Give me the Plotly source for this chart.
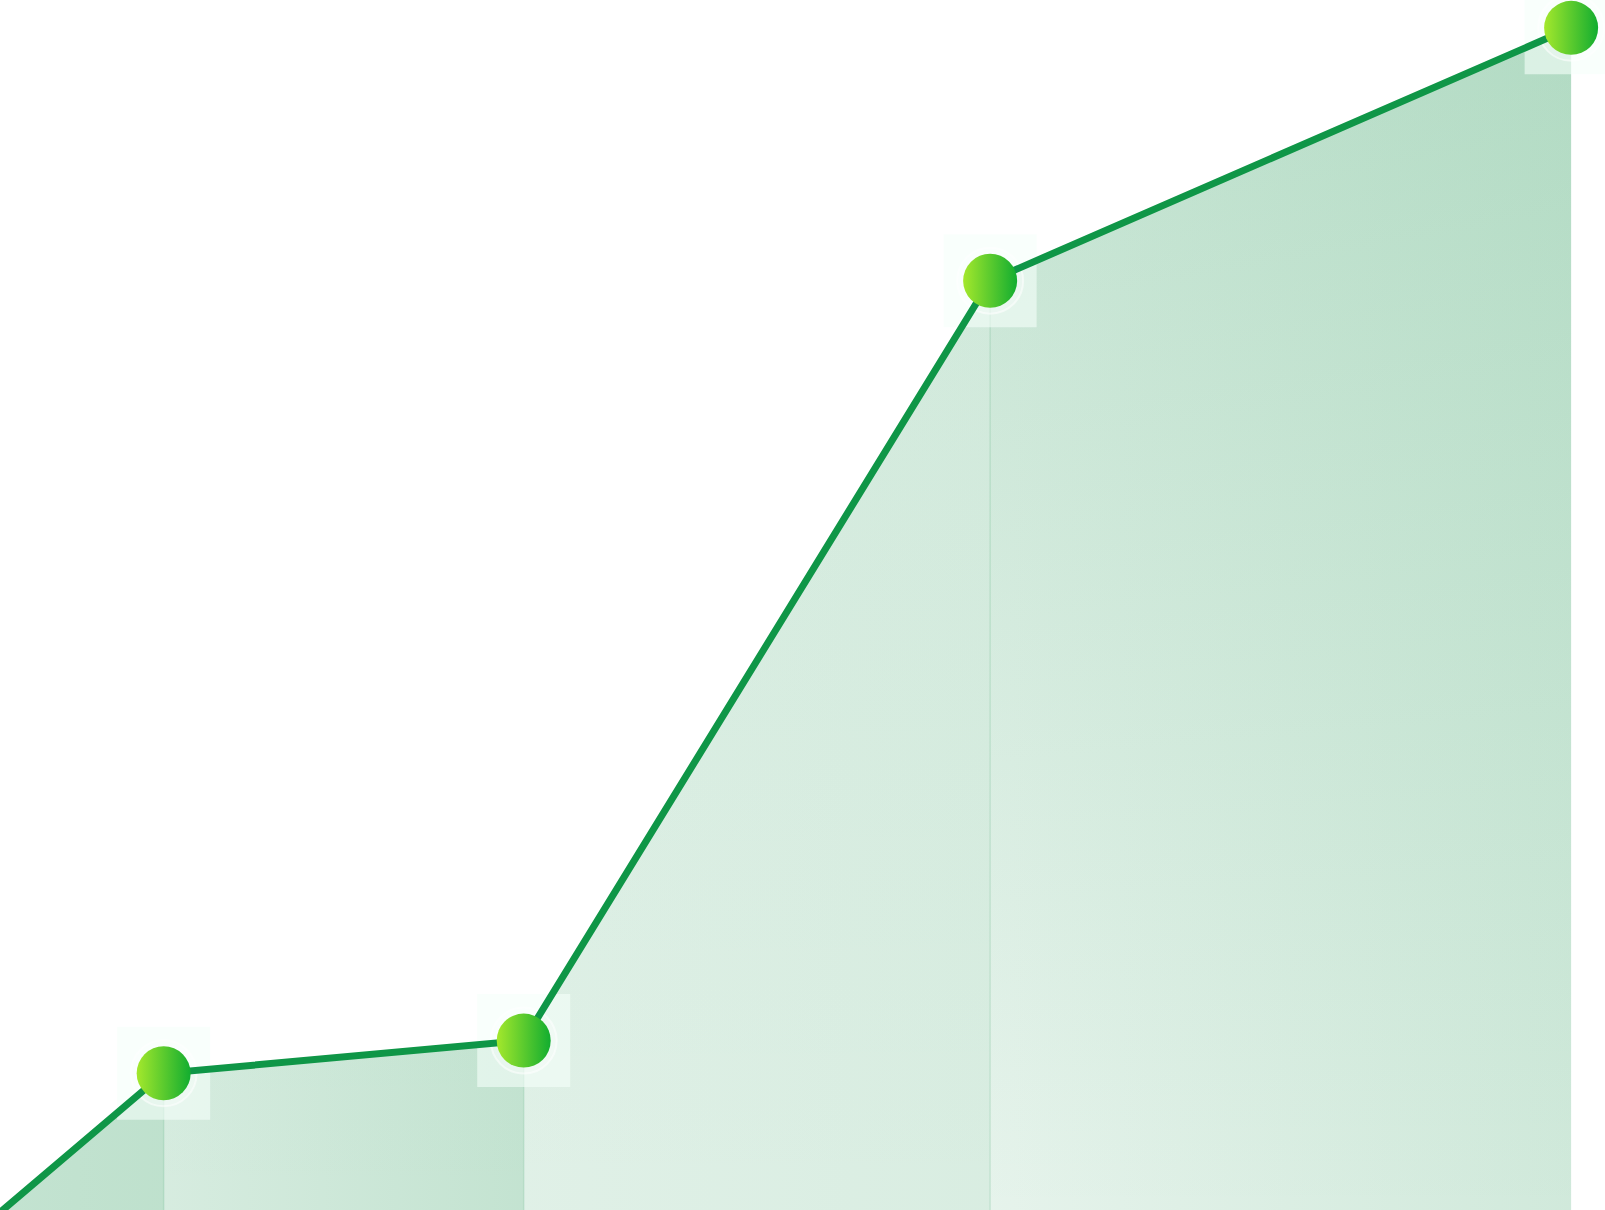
import plotly.graph_objects as go

# ---- data ----
x_vals = [0, 10, 32, 60.5, 96]
y_vals = [0, 11.5, 14.2, 77.0, 97.9]

X_RANGE = [0, 98.07]
Y_RANGE = [0.2, 100.2]

BASE = "16,143,70"
# per segment fill alpha: (left, right) horizontal, (bottom, top) vertical overlay
seg_h_alpha = [(0.25, 0.27), (0.17, 0.25), (0.13, 0.16), (0.105, 0.195)]
seg_v_alpha = [(0.0, 0.0), (0.0, 0.01), (0.0, 0.04), (0.0, 0.16)]

fig = go.Figure()

# area fill, one trace per segment
for i in range(len(x_vals) - 1):
    xs = [x_vals[i], x_vals[i + 1]]
    ys = [y_vals[i], y_vals[i + 1]]
    a0, a1 = seg_h_alpha[i]
    fig.add_trace(go.Scatter(
        x=xs, y=ys, mode="none", fill="tozeroy",
        fillgradient=dict(type="horizontal",
                          colorscale=[[0, f"rgba({BASE},{a0})"], [1, f"rgba({BASE},{a1})"]],
                          start=xs[0], stop=xs[1]),
        hoverinfo="skip", showlegend=False))
    v0, v1 = seg_v_alpha[i]
    if v1 > 0:
        fig.add_trace(go.Scatter(
            x=xs, y=ys, mode="none", fill="tozeroy",
            fillgradient=dict(type="vertical",
                              colorscale=[[0, f"rgba({BASE},{v0})"], [1, f"rgba({BASE},{v1})"]],
                              start=0, stop=max(ys)),
            hoverinfo="skip", showlegend=False))

# faint vertical separators at inner points
for i in range(1, len(x_vals) - 1):
    fig.add_trace(go.Scatter(
        x=[x_vals[i], x_vals[i]], y=[0, y_vals[i]], mode="lines",
        line=dict(color=f"rgba({BASE},0.12)", width=1.5),
        hoverinfo="skip", showlegend=False))

# light squares behind markers
fig.add_trace(go.Scatter(
    x=x_vals[1:], y=y_vals[1:], mode="markers",
    marker=dict(symbol="square", size=93, color="rgba(245,255,250,0.6)", line=dict(width=0)),
    hoverinfo="skip", showlegend=False))

# halo
fig.add_trace(go.Scatter(
    x=x_vals[1:], y=y_vals[1:], mode="markers",
    marker=dict(symbol="circle", size=66, color="rgba(255,255,255,0.25)",
                line=dict(width=2, color="rgba(255,255,255,0.55)")),
    hoverinfo="skip", showlegend=False))

# line
fig.add_trace(go.Scatter(
    x=x_vals, y=y_vals, mode="lines",
    line=dict(color="#0f9647", width=7),
    hoverinfo="skip", showlegend=False))

# markers
fig.add_trace(go.Scatter(
    x=x_vals[1:], y=y_vals[1:], mode="markers",
    marker=dict(symbol="circle", size=54, color="#a4e82c",
                gradient=dict(type="horizontal", color="#12ad30"),
                line=dict(width=0)),
    hoverinfo="skip", showlegend=False))

fig.update_layout(
    width=1605, height=1210,
    margin=dict(l=0, r=0, t=0, b=0),
    paper_bgcolor="white", plot_bgcolor="white",
    xaxis=dict(range=X_RANGE, visible=False, fixedrange=True),
    yaxis=dict(range=Y_RANGE, visible=False, fixedrange=True),
    showlegend=False,
    hovermode=False,
)

fig.write_html("out.html", config={"displayModeBar": False},
               post_script="document.body.style.margin='0';")
